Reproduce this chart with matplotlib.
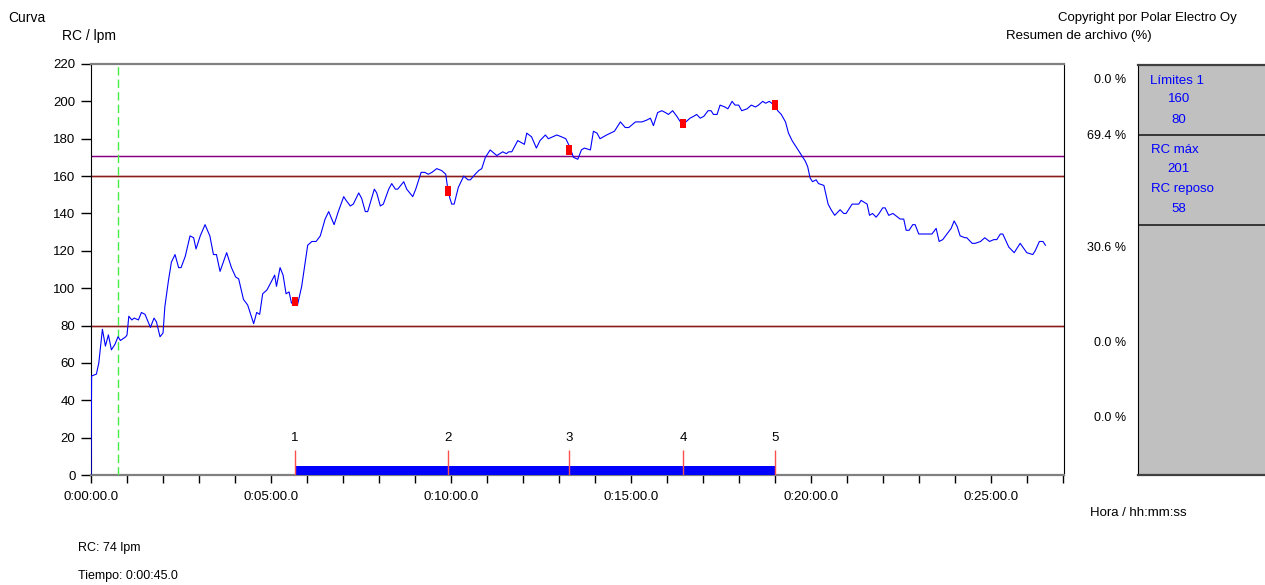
import matplotlib
matplotlib.use("Agg")
import matplotlib.pyplot as plt
from matplotlib.patches import Rectangle

plt.rcParams["font.family"] = ["Liberation Sans", "DejaVu Sans"]

# heart rate curve (seconds, bpm)
t_sec = [0, 1, 9, 13, 19, 24, 29, 34, 40, 45, 49, 58, 60, 63, 68, 72, 79, 84, 90, 99,
         105, 109, 115, 120, 123, 129, 134, 140, 146, 150, 157, 165, 171, 175, 182, 190, 198, 204, 209, 215,
         226, 234, 241, 246, 254, 261, 271, 276, 281, 286, 293, 298, 306, 309, 315, 320, 325, 330, 334, 340,
         344, 351, 361, 368, 375, 382, 390, 396, 405, 412, 421, 425, 432, 437, 446, 451, 457, 461, 472, 476,
         482, 487, 496, 501, 507, 511, 521, 526, 536, 541, 550, 556, 562, 568, 576, 584, 591, 594, 598, 601,
         605, 612, 621, 628, 632, 640, 646, 651, 657, 665, 676, 686, 692, 696, 701, 711, 722, 726, 734, 742,
         748, 757, 762, 776, 784, 791, 797, 804, 811, 817, 822, 832, 837, 843, 848, 859, 872, 882, 890, 896,
         907, 918, 926, 932, 937, 944, 951, 957, 962, 969, 976, 982, 987, 991, 998, 1004, 1009, 1015, 1021, 1028,
         1033, 1037, 1043, 1048, 1056, 1061, 1068, 1073, 1079, 1084, 1093, 1100, 1107, 1112, 1119, 1124, 1130, 1134, 1140, 1144,
         1150, 1157, 1162, 1168, 1176, 1184, 1190, 1194, 1198, 1202, 1208, 1212, 1221, 1228, 1233, 1239, 1248, 1254, 1258, 1268,
         1274, 1279, 1283, 1293, 1297, 1302, 1308, 1313, 1319, 1323, 1329, 1336, 1340, 1348, 1354, 1358, 1363, 1369, 1373, 1379,
         1384, 1390, 1396, 1401, 1408, 1413, 1419, 1426, 1433, 1438, 1443, 1448, 1456, 1459, 1468, 1473, 1482, 1489, 1497, 1504,
         1509, 1515, 1519, 1529, 1538, 1548, 1559, 1569, 1573, 1580, 1586, 1590]
hr = [0, 53, 54, 60, 78, 69, 75, 67, 70, 74, 72, 74, 75, 85, 83, 84, 83, 87, 86, 79,
      84, 82, 74, 76, 90, 104, 114, 118, 111, 111, 117, 128, 127, 121, 128, 134, 128, 118, 118, 109,
      119, 111, 106, 105, 94, 91, 81, 87, 86, 97, 99, 102, 107, 101, 111, 107, 97, 98, 92, 93,
      91, 101, 123, 125, 125, 128, 137, 141, 134, 141, 149, 147, 144, 145, 151, 148, 141, 141, 153, 151,
      144, 145, 153, 156, 153, 153, 157, 153, 149, 153, 162, 162, 161, 162, 164, 163, 161, 154, 148, 145,
      145, 154, 160, 158, 158, 161, 163, 164, 170, 174, 171, 173, 172, 173, 173, 179, 177, 183, 181, 175,
      179, 182, 180, 182, 181, 180, 176, 170, 169, 174, 175, 174, 184, 183, 180, 182, 184, 189, 186, 186,
      189, 189, 190, 191, 187, 194, 195, 194, 193, 195, 192, 189, 188, 189, 191, 192, 193, 191, 192, 195,
      195, 193, 193, 198, 197, 196, 200, 198, 198, 195, 196, 198, 197, 198, 200, 199, 200, 199, 198, 195,
      193, 189, 183, 179, 175, 171, 168, 165, 159, 157, 158, 156, 155, 145, 142, 139, 142, 140, 140, 145,
      145, 145, 147, 145, 139, 140, 138, 140, 143, 143, 139, 140, 139, 137, 137, 131, 131, 134, 134, 129,
      129, 129, 129, 129, 132, 125, 126, 129, 132, 136, 133, 128, 127, 127, 124, 124, 125, 127, 125, 126,
      126, 129, 129, 122, 119, 124, 119, 118, 120, 125, 125, 123]

# laps
lap_t = [340, 594, 797, 987, 1140]
lap_hr = [93, 152, 174, 188, 198]
lap_names = ["1", "2", "3", "4", "5"]

limit_hi, limit_lo = 160, 80
avg_line = 171
cursor_t = 45

pct_labels = ["0.0 %", "69.4 %", "30.6 %", "0.0 %", "0.0 %"]
pct_y_px = [80, 136, 248, 343, 418]


def fmt_time(s):
    s = int(round(s))
    return f"{s // 3600}:{(s % 3600) // 60:02d}:{s % 60:02d}.0"


W, H = 1265, 585
fig = plt.figure(figsize=(W / 100, H / 100), dpi=100)


def fx(px):
    return px / W


def fy(py):
    return 1 - py / H


ax = fig.add_axes([fx(91), fy(475), fx(1064) - fx(91), fy(64) - fy(475)])
ax.set_xlim(0, 1621)
ax.set_ylim(0, 220)

for lim in [limit_hi, limit_lo]:
    ax.axhline(lim, color="#d4a8a8", lw=1.8, zorder=2)
    ax.axhline(lim, color="#8b1a1a", lw=0.8, zorder=2)
ax.axhline(avg_line, color="#e8c8e8", lw=2.0, zorder=2)
ax.axhline(avg_line, color="#800080", lw=0.8, zorder=2)

ax.axvline(cursor_t, color="#44ee44", lw=1, ls=(0, (6, 3)), zorder=3)

ax.plot(t_sec, hr, color="#0000ff", lw=0.8, zorder=4)

for t, v in zip(lap_t, lap_hr):
    ax.add_patch(Rectangle((t - 5, v - 2.5), 10, 5, color="#ff0000", lw=0, zorder=5))

ax.fill_between([lap_t[0], lap_t[-1]], 0, 5, color="#0000ff", lw=0, zorder=3)
ax.vlines(lap_t, 0, 13.4, color="#ff5050", lw=1, zorder=4)
for t, n in zip(lap_t, lap_names):
    ax.text(t, 19.8, n, ha="center", va="center", fontsize=9.5)

ax.set_yticks(range(0, 221, 20))
ax.set_xticks(range(0, 1621, 300))
ax.set_xticks(range(0, 1621, 60), minor=True)
ax.set_xticklabels([fmt_time(s) for s in range(0, 1621, 300)])
ax.tick_params(axis="y", direction="out", length=7.2, width=1, labelsize=9.5, pad=4)
ax.tick_params(axis="x", which="both", direction="out", length=5.8, width=1, labelsize=9.5, pad=6)

for side in ["top", "bottom"]:
    ax.spines[side].set_color("#808080")
    ax.spines[side].set_linewidth(1.6)
ax.spines["left"].set_color("black")
ax.spines["right"].set_color("black")

# right summary box
box = fig.add_axes([fx(1138), fy(475), 1 - fx(1138), fy(65) - fy(475)])
box.set_facecolor("#c0c0c0")
box.set_xticks([])
box.set_yticks([])
box.set_xlim(0, 1)
box.set_ylim(475, 65)
box.spines["right"].set_visible(False)
box.spines["top"].set_color("#404040")
box.spines["top"].set_linewidth(1.6)
box.spines["bottom"].set_color("#404040")
box.spines["bottom"].set_linewidth(1.6)
box.spines["left"].set_color("black")
box.axhline(135, color="#202020", lw=1.2)
box.axhline(225, color="#202020", lw=1.2)

box_items = [("Límites 1", 1150, 81), ("160", 1168, 99), ("80", 1171, 120),
             ("RC máx", 1151, 150), ("201", 1167, 169), ("RC reposo", 1151, 189),
             ("58", 1171, 209)]
for s, px, py in box_items:
    fig.text(fx(px), fy(py), s, color="#0000ff", fontsize=9.5, ha="left", va="center")

for s, py in zip(pct_labels, pct_y_px):
    fig.text(fx(1126), fy(py), s, fontsize=9, ha="right", va="center")

fig.text(fx(8), fy(18), "Curva", fontsize=10, ha="left", va="center")
fig.text(fx(62), fy(36), "RC / lpm", fontsize=10, ha="left", va="center")
fig.text(fx(1237), fy(18), "Copyright por Polar Electro Oy", fontsize=9.5, ha="right", va="center")
fig.text(fx(1152), fy(36), "Resumen de archivo (%)", fontsize=9.5, ha="right", va="center")
fig.text(fx(1090), fy(513), "Hora / hh:mm:ss", fontsize=9.5, ha="left", va="center")
fig.text(fx(78), fy(548), "RC: 74 lpm", fontsize=9, ha="left", va="center")
fig.text(fx(78), fy(576), "Tiempo: 0:00:45.0", fontsize=9, ha="left", va="center")

fig.savefig("out.png", dpi=100)
